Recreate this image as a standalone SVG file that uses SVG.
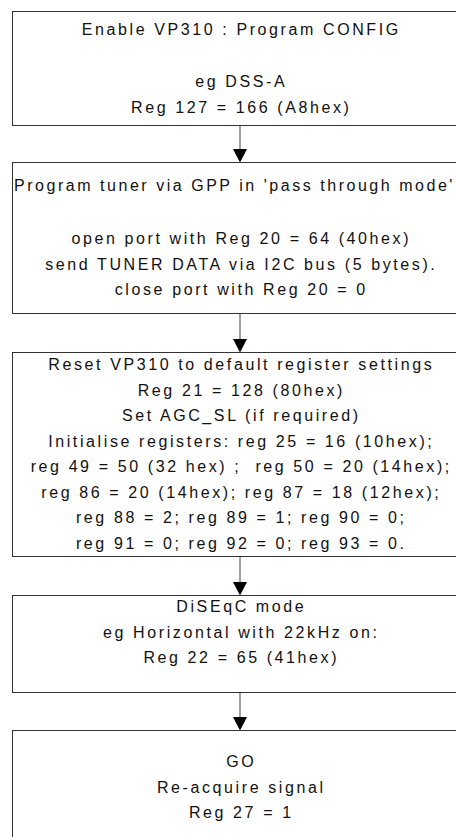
<svg xmlns="http://www.w3.org/2000/svg" width="456" height="837" viewBox="0 0 456 837">
<style>
.box{fill:#fff;stroke:#333;stroke-width:1}
.t{font-family:"Liberation Sans",Arial,sans-serif;font-size:16px;letter-spacing:2.6px;fill:#111;text-anchor:middle}
.c{stroke:#444;stroke-width:1;fill:none}
.ah{fill:#000}
</style>
<rect width="456" height="837" fill="#fff"/>
<g id="connectors">
<line class="c" x1="240" y1="125.5" x2="240" y2="150"/><polygon class="ah" points="233,149 247,149 240,162.5"/>
<line class="c" x1="240" y1="313.5" x2="240" y2="340"/><polygon class="ah" points="233,339 247,339 240,352.5"/>
<line class="c" x1="240" y1="556.5" x2="240" y2="583"/><polygon class="ah" points="233,582 247,582 240,595.5"/>
<line class="c" x1="240" y1="692.5" x2="240" y2="718"/><polygon class="ah" points="233,717 247,717 240,730.5"/>
</g>
<g id="n1">
<rect class="box" x="12.5" y="11.5" width="456" height="114"/>
<text class="t" x="241.3" y="35">Enable VP310 : Program CONFIG</text>
<text class="t" x="241.3" y="87">eg DSS-A</text>
<text class="t" x="241.3" y="113">Reg 127 = 166 (A8hex)</text>
</g>
<g id="n2">
<rect class="box" x="12.5" y="162.5" width="456" height="151"/>
<text class="t" x="14" y="191" style="text-anchor:start" textLength="441" lengthAdjust="spacing">Program tuner via GPP in 'pass through mode'</text>
<text class="t" x="241.3" y="244">open port with Reg 20 = 64 (40hex)</text>
<text class="t" x="241.3" y="269.5">send TUNER DATA via I2C bus (5 bytes).</text>
<text class="t" x="241.3" y="295">close port with Reg 20 = 0</text>
</g>
<g id="n3">
<rect class="box" x="12.5" y="352.5" width="456" height="204"/>
<text class="t" x="241.3" y="370">Reset VP310 to default register settings</text>
<text class="t" x="241.3" y="395.5">Reg 21 = 128 (80hex)</text>
<text class="t" x="241.3" y="421">Set AGC_SL (if required)</text>
<text class="t" x="241.3" y="446.5">Initialise registers: reg 25 = 16 (10hex);</text>
<text class="t" x="241.3" y="472" xml:space="preserve">reg 49 = 50 (32 hex) ;  reg 50 = 20 (14hex);</text>
<text class="t" x="241.3" y="497.5">reg 86 = 20 (14hex); reg 87 = 18 (12hex);</text>
<text class="t" x="241.3" y="523">reg 88 = 2; reg 89 = 1; reg 90 = 0;</text>
<text class="t" x="241.3" y="548.5">reg 91 = 0; reg 92 = 0; reg 93 = 0.</text>
</g>
<g id="n4">
<rect class="box" x="12.5" y="595.5" width="456" height="97"/>
<text class="t" x="241.3" y="612">DiSEqC mode</text>
<text class="t" x="241.3" y="637.5">eg Horizontal with 22kHz on:</text>
<text class="t" x="241.3" y="663">Reg 22 = 65 (41hex)</text>
</g>
<g id="n5">
<rect class="box" x="12.5" y="730.5" width="456" height="130"/>
<text class="t" x="241.3" y="767">GO</text>
<text class="t" x="241.3" y="792.5">Re-acquire signal</text>
<text class="t" x="241.3" y="818">Reg 27 = 1</text>
</g>
</svg>
